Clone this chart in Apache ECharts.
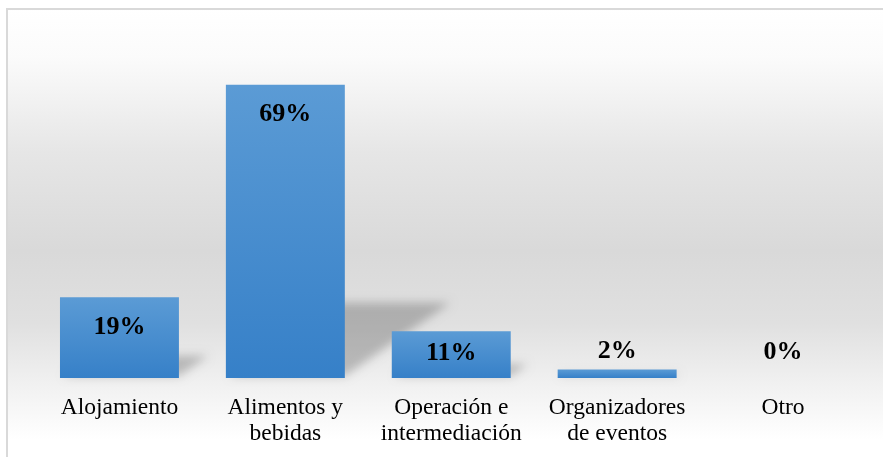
<!DOCTYPE html>
<html>
<head>
<meta charset="utf-8">
<script src="https://cdn.jsdelivr.net/npm/echarts@6/dist/echarts.min.js"></script>
<style>
html,body{margin:0;padding:0;background:#fff;}
#chart{width:883px;height:457px;}
</style>
</head>
<body>
<div id="chart"></div>
<script>
var categories = ['Alojamiento', 'Alimentos y\nbebidas', 'Operación e\nintermediación', 'Organizadores\nde eventos', 'Otro'];
var values = [19, 69, 11, 2, 0];
var valueLabels = ['19%', '69%', '11%', '2%', '0%'];

var labelStyles = [
  {position: 'insideTop', distance: 17},
  {position: 'insideTop', distance: 17},
  {position: 'insideTop', distance: 9},
  {position: 'top', distance: 5},
  {position: 'top', distance: 13}
];

var chart = echarts.init(document.getElementById('chart'), null, {renderer: 'canvas'});

var barData = values.map(function (v, i) {
  return {
    value: v,
    label: labelStyles[i]
  };
});

var SHIFT = 3000;

var option = {
  animation: false,
  backgroundColor: '#ffffff',
  graphic: [{
    type: 'rect',
    z: -10,
    silent: true,
    shape: {x: 7, y: 9, width: 900, height: 500},
    style: {
      fill: new echarts.graphic.LinearGradient(0, 0, 0, 448 / 500, [
        {offset: 0, color: '#ffffff'},
        {offset: 0.11, color: '#fbfbfb'},
        {offset: 0.32, color: '#e6e6e6'},
        {offset: 0.54, color: '#d9d9d9'},
        {offset: 0.70, color: '#e0e0e0'},
        {offset: 0.83, color: '#f0f0f0'},
        {offset: 0.96, color: '#ffffff'},
        {offset: 1, color: '#ffffff'}
      ]),
      stroke: '#d9d9d9',
      lineWidth: 2
    }
  }],
  grid: {left: 36.5, right: 17, top: 38, bottom: 79},
  xAxis: {
    type: 'category',
    data: categories,
    axisLine: {show: false},
    axisTick: {show: false},
    axisLabel: {
      interval: 0,
      margin: 17,
      color: '#000000',
      fontFamily: "'Liberation Serif', 'Times New Roman', serif",
      fontSize: 23.5,
      lineHeight: 26
    }
  },
  yAxis: {
    type: 'value',
    min: 0,
    max: 80,
    show: false,
    splitLine: {show: false}
  },
  series: [{
    type: 'custom',
    z: 1,
    silent: true,
    clip: false,
    data: values.map(function (v, i) { return [i, v]; }),
    encode: {x: 0, y: 1},
    renderItem: function (params, api) {
      var i = api.value(0);
      var v = api.value(1);
      var base = api.coord([i, 0]);
      var top = api.coord([i, v]);
      var w = api.size([1, 0])[0] * 0.717;
      var h = base[1] - top[1];
      var x0 = base[0] - w / 2 - SHIFT, x1 = base[0] + w / 2 - SHIFT, yb = base[1] - 2;
      var dx = h * 0.36, dy = h * 0.25;
      return {
        type: 'polygon',
        shape: {points: [[x0 + 4, yb], [x1, yb], [x1 + dx, yb - dy], [x0 + dx, yb - dy]]},
        style: {
          fill: '#000000',
          shadowBlur: 10,
          shadowOffsetX: SHIFT,
          shadowColor: 'rgba(0,0,0,0.22)'
        }
      };
    }
  }, {
    type: 'bar',
    z: 3,
    data: barData,
    barCategoryGap: '28.3%',
    itemStyle: {
      color: new echarts.graphic.LinearGradient(0, 0, 0, 1, [
        {offset: 0, color: '#5b9bd5'},
        {offset: 1, color: '#3680c8'}
      ])
    },
    label: {
      show: true,
      formatter: function (p) { return valueLabels[p.dataIndex]; },
      color: '#000000',
      fontFamily: "'Liberation Serif', 'Times New Roman', serif",
      fontWeight: 'bold',
      fontSize: 26
    }
  }]
};

chart.setOption(option);
</script>
</body>
</html>
